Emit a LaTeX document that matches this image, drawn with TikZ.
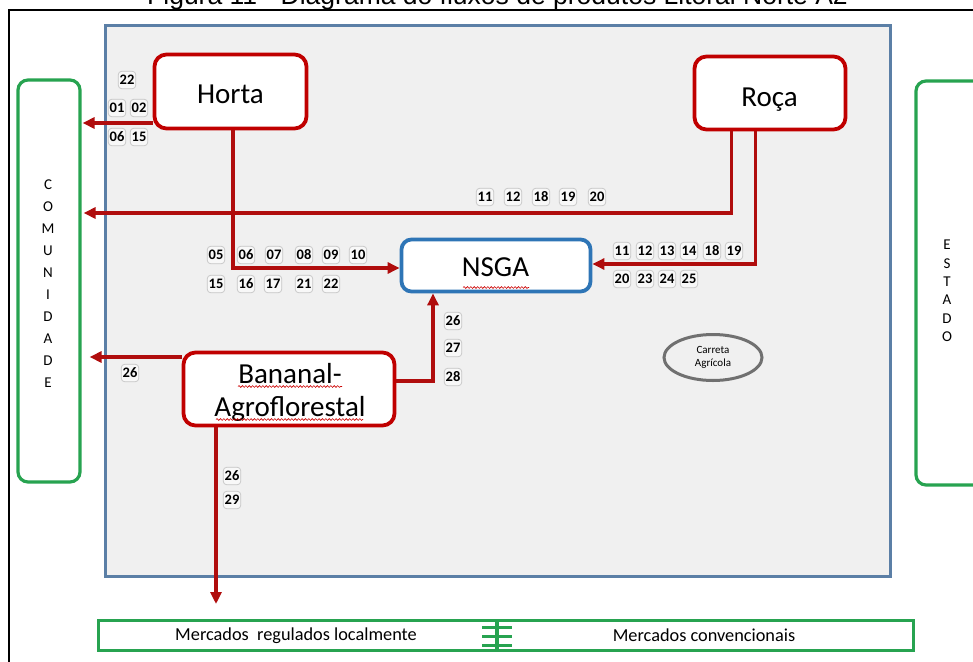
\documentclass[tikz,border=0pt]{standalone}
\usepackage{fontspec}
\setmainfont{Carlito}
\newfontfamily\titlefont{Liberation Sans}
\usetikzlibrary{arrows.meta,decorations.pathmorphing,shapes.geometric}

\definecolor{flowred}{HTML}{B00D0D}
\definecolor{boxred}{HTML}{C00000}
\definecolor{mktgreen}{HTML}{27A350}
\definecolor{nsgablue}{HTML}{2E75B6}
\definecolor{panelfill}{HTML}{F0F0F0}
\definecolor{panelline}{HTML}{5B7FA6}
\definecolor{tagline}{HTML}{C4C4C4}
\definecolor{tagfill}{HTML}{F8F8F8}
\definecolor{cartgray}{HTML}{707070}

\tikzset{
  unit/.style={draw=boxred, line width=3.8pt, rounded corners=12pt, fill=white,
    inner sep=0pt},
  hub/.style={draw=nsgablue, line width=3.8pt, rounded corners=10pt, fill=white,
    inner sep=0pt},
  boxtext/.style={anchor=base, inner sep=0pt, font=\fontsize{29}{35}\selectfont},
  side/.style={draw=mktgreen, line width=3.2pt, rounded corners=10pt},
  flow/.style={draw=flowred, line width=3.4pt,
    -{Triangle[length=12pt,width=11pt]}},
  tag/.style={draw=tagline, fill=tagfill, line width=0.7pt, rounded corners=3.5pt,
    font=\fontsize{14.5}{15}\selectfont\bfseries, inner xsep=1.4pt, inner ysep=1pt,
    minimum height=17.5pt},
  vletters/.style={font=\fontsize{15}{22}\selectfont, align=center, inner sep=0pt},
  spell/.style={draw=red!80!black, line width=0.6pt,
    decorate, decoration={snake, segment length=3.4pt, amplitude=0.9pt}},
}

\begin{document}
\begin{tikzpicture}[x=1pt, y=-1pt]
  \useasboundingbox (0,0) rectangle (973,661);
  \fill[white] (0,0) rectangle (973,661);

  % caption, partly above the page edge
  \node[anchor=base west, inner sep=0pt, font=\titlefont\fontsize{26.5}{30}\selectfont]
    (title) at (147,5) {Figura 11 - Diagrama do fluxos de produtos Litoral Norte A2};

  % outer frame
  \draw[line width=1.8pt] (9,670) -- (9,10) -- (980,10);

  % grey panel
  \node[draw=panelline, fill=panelfill, line width=3.4pt, inner sep=0pt,
        minimum width=785pt, minimum height=551pt] (panel) at (498,301) {};

  % side boxes
  \node[side, minimum width=62pt, minimum height=402pt] (com) at (49,281) {};
  \node[vletters] (comtxt) at (48,284) {C\\O\\M\\U\\N\\I\\D\\A\\D\\E};
  \node[side, minimum width=70pt, minimum height=404pt] (est) at (951,283) {};
  \node[vletters, font=\fontsize{15}{18.4}\selectfont] (esttxt) at (947,291)
    {E\\S\\T\\A\\D\\O};

  % production units
  \node[unit, minimum width=152pt, minimum height=74pt] (horta) at (230.5,91.5) {};
  \node[boxtext] (hortatxt) at (230.5,103.3) {Horta};
  \node[unit, minimum width=151pt, minimum height=73pt] (roca) at (770,93) {};
  \node[boxtext] (rocatxt) at (769.5,106.5) {Roça};
  \node[hub, minimum width=189pt, minimum height=52pt] (nsga) at (496,265.5) {};
  \node[boxtext] (nsgatxt) at (495.5,276.5) {NSGA};
  \node[unit, minimum width=211pt, minimum height=73pt] (banana) at (289,389) {};
  \node[boxtext] (bantxt1) at (290,383.3) {Bananal-};
  \node[boxtext] (bantxt2) at (290,416) {Agroflorestal};

  % spell-check marks under the labels
  \draw[spell] (463,287.5) -- (529,287.5);
  \draw[spell] (238,386.5) -- (342,386.5);
  \draw[spell] (216,419.5) -- (363,419.5);

  % cart
  \node[draw=cartgray, line width=3pt, ellipse, minimum width=98pt, minimum height=46pt,
        inner sep=0pt, align=center, font=\fontsize{11}{13.5}\selectfont] (cart)
    at (713,357.5) {Carreta\\Agrícola};

  % markets
  \node[draw=mktgreen, line width=3pt, minimum width=815pt, minimum height=30pt,
        inner sep=0pt] (mkt) at (506,635.5) {};
  \node[font=\fontsize{18.3}{20}\selectfont] (mktlocal) at (296,635.5)
    {Mercados\ \ regulados localmente};
  \node[font=\fontsize{18.3}{20}\selectfont] (mktconv) at (704,635.5)
    {Mercados convencionais};
  \coordinate (sepT) at (497,620);
  \coordinate (sepB) at (497,651);
  \draw[mktgreen, line width=3.4pt] (sepT) -- (sepB);
  \foreach \yy in {627,636,645}
    \draw[mktgreen, line width=3pt] (482,\yy) -- (512,\yy);
  \coordinate (mktin) at (216,604);

  % flows
  \draw[flow, shorten >=1pt] (horta.west |- 0,123) -- (com.east |- 0,123);
  \draw[flow] (horta.south -| 233,0) -- (233,268) -- (nsga.west |- 0,268);
  \draw[flow, shorten >=2pt] (roca.south -| 731.5,0) -- (731.5,213) -- (com.east |- 0,213);
  \draw[flow] (roca.south -| 755.5,0) -- (755.5,264) -- (nsga.east |- 0,264);
  \draw[flow] (banana.east |- 0,381) -- (433,381) -- (nsga.south -| 433,0);
  \draw[flow, shorten >=8pt] (banana.west |- 0,357) -- (com.east |- 0,357);
  \draw[flow] (banana.south -| 216,0) -- (mktin);

  % product codes
  \node[tag] (h22) at (127,80) {22};
  \node[tag] (h01) at (117,108) {01};
  \node[tag] (h02) at (139,108) {02};
  \node[tag] (h06) at (117,137) {06};
  \node[tag] (h15) at (139,137) {15};

  \foreach \lab/\xx in {05/216,06/246,07/274,08/304,09/331,10/358}
    \node[tag] (ha\lab) at (\xx,255) {\lab};
  \foreach \lab/\xx in {15/216,16/246,17/273,21/304,22/331}
    \node[tag] (hb\lab) at (\xx,284) {\lab};

  \foreach \lab/\xx in {11/485,12/513,18/541,19/568,20/597}
    \node[tag] (rc\lab) at (\xx,197) {\lab};

  \foreach \lab/\xx in {11/622,12/645,13/667,14/689,18/712,19/734}
    \node[tag] (ra\lab) at (\xx,251) {\lab};
  \foreach \lab/\xx in {20/622,23/645,24/667,25/689}
    \node[tag] (rb\lab) at (\xx,279) {\lab};

  \node[tag] (b26) at (453,321) {26};
  \node[tag] (b27) at (453,348) {27};
  \node[tag] (b28) at (453,377) {28};
  \node[tag] (bc26) at (130,373) {26};
  \node[tag] (bm26) at (232,476) {26};
  \node[tag] (bm29) at (232,500) {29};
\end{tikzpicture}
\end{document}
